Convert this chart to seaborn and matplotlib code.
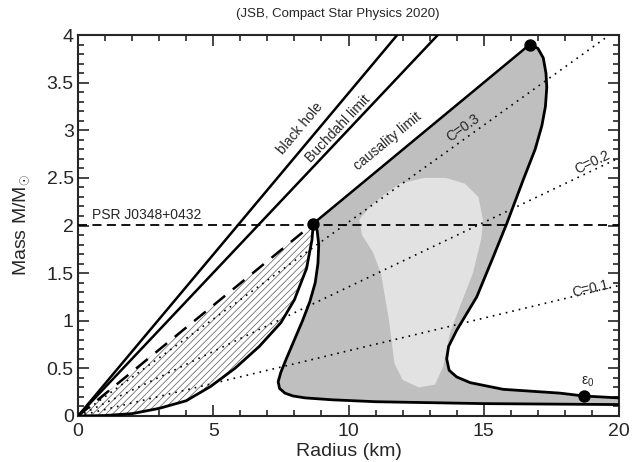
import numpy as np
import pandas as pd
import matplotlib
matplotlib.use("Agg")
import matplotlib.pyplot as plt
import seaborn as sns
from matplotlib.ticker import MultipleLocator

# ---------------- data ----------------
bh_R, bh_M = [0.0, 11.8], [0.0, 4.0]            # black hole
buch_R, buch_M = [0.0, 13.3], [0.0, 4.0]        # Buchdahl limit
caus_lo_R, caus_lo_M = [0.0, 8.7], [0.0, 2.02]  # causality (dashed part)
caus_hi_R, caus_hi_M = [8.7, 16.7], [2.02, 3.9] # causality (solid part)

c_labels = ["C=0.3", "C=0.2", "C=0.1"]
c_end_R = [19.65, 20.0, 20.0]
c_end_M = [4.0, 2.71, 1.37]

psr_mass = 2.01

# self-bound star curve (origin to max mass)
sb_R = [0.0, 1.0, 2.0, 3.0, 4.0, 4.9, 5.8, 6.7, 7.5, 8.0, 8.45, 8.65, 8.7]
sb_M = [0.0, 0.005, 0.025, 0.08, 0.16, 0.31, 0.5, 0.73, 0.98, 1.22, 1.55, 1.85, 2.02]

# hybrid branch (from max mass down and out along the bottom)
hy_R = [8.7, 8.84, 8.9, 8.87, 8.77, 8.57, 8.3, 8.0, 7.7, 7.5, 7.4, 7.45, 7.65, 7.95, 8.4, 9.4, 11.0, 13.0, 15.0, 17.5, 20.0]
hy_M = [2.02, 1.95, 1.8, 1.6, 1.4, 1.2, 1.0, 0.8, 0.6, 0.46, 0.36, 0.29, 0.24, 0.21, 0.19, 0.17, 0.15, 0.14, 0.13, 0.125, 0.12]

# neutron star curve (from max mass down to low mass)
ns_R = [16.7, 17.0, 17.2, 17.3, 17.33, 17.28, 17.15, 16.9, 16.46, 15.85, 15.35, 14.74, 14.0, 13.7, 13.63, 13.72, 14.0, 14.5, 15.72, 17.82, 18.7, 20.0]
ns_M = [3.9, 3.86, 3.76, 3.6, 3.45, 3.25, 3.05, 2.8, 2.48, 2.02, 1.67, 1.25, 0.9, 0.73, 0.6, 0.48, 0.41, 0.35, 0.28, 0.24, 0.21, 0.19]

# lighter inner region
blob_R = [10.4, 10.8, 11.3, 11.9, 12.8, 13.6, 14.3, 14.8, 14.98, 14.9, 14.6, 14.12, 13.75, 13.5, 13.2, 12.6, 12.0, 11.7, 11.5, 11.2, 10.9, 10.5]
blob_M = [2.06, 2.2, 2.32, 2.44, 2.5, 2.5, 2.44, 2.3, 2.05, 1.85, 1.5, 1.15, 0.87, 0.52, 0.33, 0.3, 0.38, 0.55, 1.0, 1.5, 1.72, 1.9]

dots_R = [8.7, 16.7, 18.7]
dots_M = [2.02, 3.9, 0.21]

# ---------------- style ----------------
sns.set_style("ticks")
plt.rcParams["font.family"] = ["Liberation Sans", "DejaVu Sans"]
plt.rcParams["mathtext.fontset"] = "custom"
plt.rcParams["mathtext.rm"] = "Liberation Sans"
plt.rcParams["mathtext.it"] = "Liberation Sans"
plt.rcParams["hatch.linewidth"] = 0.55
plt.rcParams["hatch.color"] = "#666666"

fig = plt.figure(figsize=(6.33, 4.62), dpi=100)
ax = fig.add_axes([78/633, 1-416/462, (619-78)/633, (416-35)/462])

# gray region
gray_R = caus_hi_R + ns_R + [20.0] + hy_R[::-1]
gray_M = caus_hi_M + ns_M + [0.12] + hy_M[::-1]
ax.fill(gray_R, gray_M, facecolor="#bfbfbf", edgecolor="none", zorder=1)
ax.fill(blob_R, blob_M, facecolor="#e2e2e2", edgecolor="none", zorder=1.5)

# hatched region between dashed causality line and self-bound curve
hatch_R = caus_lo_R + sb_R[::-1]
hatch_M = caus_lo_M + sb_M[::-1]
ax.fill(hatch_R, hatch_M, facecolor="white", edgecolor="#666666", hatch="/////", linewidth=0, zorder=1)

def line(R, M, **kw):
    df = pd.DataFrame({"R": R, "M": M})
    sns.lineplot(data=df, x="R", y="M", sort=False, estimator=None, ax=ax, **kw)

# C lines (dotted)
for lab, r, m in zip(c_labels, c_end_R, c_end_M):
    line([0.0, r], [0.0, m], color="black", lw=1.2, linestyle=(0, (1, 3)), zorder=2)

# limits
line(bh_R, bh_M, color="black", lw=1.8, zorder=3)
line(buch_R, buch_M, color="black", lw=1.8, zorder=3)
line(caus_hi_R, caus_hi_M, color="black", lw=1.8, zorder=3)
line(caus_lo_R, caus_lo_M, color="black", lw=1.8, linestyle=(0, (6, 4)), zorder=3)

# PSR line
ax.axhline(psr_mass, color="black", lw=1.3, linestyle=(0, (5, 3)), zorder=3)

# curves
line(sb_R, sb_M, color="black", lw=2.0, zorder=4)
line(hy_R, hy_M, color="black", lw=2.0, zorder=4)
line(ns_R, ns_M, color="black", lw=2.0, zorder=4)

sns.scatterplot(x=dots_R, y=dots_M, color="black", s=80, ax=ax, zorder=5, edgecolor="black", linewidth=0)

# labels
tfs = 10
ax.text(8.2, 3.02, "black hole", rotation=50, ha="center", va="center", fontsize=tfs)
ax.text(9.6, 3.02, "Buchdahl limit", rotation=46.5, ha="center", va="center", fontsize=tfs)
ax.text(11.44, 2.88, "causality limit", rotation=39.4, ha="center", va="center", fontsize=tfs)
ax.text(14.24, 3.02, c_labels[0], rotation=35.6, ha="center", va="center", fontsize=tfs)
ax.text(19.0, 2.66, c_labels[1], rotation=25.5, ha="center", va="center", fontsize=tfs)
ax.text(18.95, 1.33, c_labels[2], rotation=13.3, ha="center", va="center", fontsize=tfs)
ax.text(0.52, 2.04, "PSR J0348+0432", ha="left", va="bottom", fontsize=tfs)
ax.text(18.85, 0.28, r"$\varepsilon_0$", ha="center", va="bottom", fontsize=tfs,
        family=["DejaVu Serif"])

ax.set_xlim(0, 20)
ax.set_ylim(0, 4)
ax.xaxis.set_minor_locator(MultipleLocator(1))
ax.yaxis.set_minor_locator(MultipleLocator(0.1))
ax.set_yticks([0, 0.5, 1, 1.5, 2, 2.5, 3, 3.5, 4])
ax.set_yticklabels(["0", "0.5", "1", "1.5", "2", "2.5", "3", "3.5", "4"])
ax.set_xticks([0, 5, 10, 15, 20])
ax.set_xticklabels(["0", "5", "10", "15", "20"])
ax.tick_params(which="both", direction="in", top=True, right=True, labelsize=14, width=1.2)
ax.tick_params(axis="x", which="major", length=8, pad=5)
ax.tick_params(axis="y", which="major", length=8, pad=3)
ax.tick_params(which="minor", length=4)
for s in ax.spines.values():
    s.set_linewidth(1.5)

ax.set_xlabel("Radius (km)", fontsize=14, labelpad=2)
ax.set_ylabel(r"Mass M/M$_{\odot}$", fontsize=14, labelpad=11)
fig.text(338/633, 1-14/462, "(JSB, Compact Star Physics 2020)", ha="center", va="center", fontsize=9.5)

fig.savefig("out.png", dpi=100)
